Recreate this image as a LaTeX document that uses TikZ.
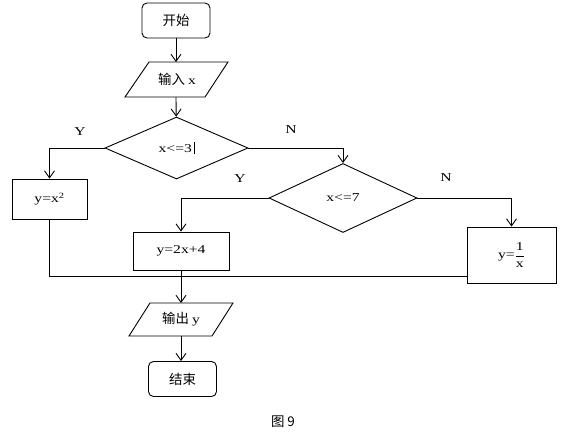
\documentclass[tikz,border=0pt]{standalone}
\usepackage{fontspec}
\setmainfont{Liberation Serif}[FakeStretch=1.3]
\newfontfamily\cjk{Noto Sans CJK SC}[Scale=1.12]
\usetikzlibrary{arrows.meta,shapes.geometric}
\tikzset{
  base/.style={line width=0.9pt},
  txt/.style={font=\fontsize{12}{14}\selectfont},
  arr/.style={base, -{Straight Barb[length=7pt,width=10pt]}},
  term/.style={base, txt, draw, rounded corners=5pt, minimum width=68pt, minimum height=35pt, inner sep=0pt},
  iotext/.style={txt, inner sep=0pt},
  iobox/.style={base, draw},
  dec/.style={base, txt, draw, diamond, inner sep=0pt},
  proc/.style={base, txt, draw, rectangle, inner sep=0pt},
  lab/.style={font=\fontsize{12}{14}\selectfont}
}
\begin{document}
\begin{tikzpicture}[x=1pt,y=-1pt,base]
\useasboundingbox (0,0) rectangle (567,432);
\node[term] (start) at (176,20.5) {\cjk 开始};
\node[iotext] (in) at (177,79.5) {\cjk 输入 \rmfamily x};
\draw[iobox] ([shift={(-28,-17.5)}]in.center) -- ([shift={(51,-17.5)}]in.center) -- ([shift={(28,17.5)}]in.center) -- ([shift={(-52,17.5)}]in.center) -- cycle;
\coordinate (inN) at ([shift={(-1,-17.5)}]in.center);
\coordinate (inS) at ([shift={(-1,17.5)}]in.center);
\node[dec, minimum width=143pt, minimum height=62pt] (d1) at (176.5,148) {x<=3\,\rule[-1.5pt]{0.5pt}{12pt}};
\node[proc, minimum width=75pt, minimum height=40pt] (b1) at (49.5,199) {y=x\textsuperscript{2}};
\node[dec, minimum width=148pt, minimum height=69pt] (d2) at (343,198) {x<=7};
\node[proc, minimum width=96pt, minimum height=38pt] (b2) at (181,251) {y=2x+4};
\node[proc, minimum width=89pt, minimum height=56pt] (b3) at (511.5,255) {y=$\displaystyle\frac{\hbox{1}}{\hbox{x}}$};
\node[iotext] (out) at (181,319.5) {\cjk 输出 \rmfamily y};
\draw[iobox] ([shift={(-31,-16.5)}]out.center) -- ([shift={(52,-16.5)}]out.center) -- ([shift={(31,16.5)}]out.center) -- ([shift={(-52,16.5)}]out.center) -- cycle;
\coordinate (outN) at ([shift={(-1,-16.5)}]out.center);
\coordinate (outS) at ([shift={(-1,16.5)}]out.center);
\node[term] (end) at (182.5,379) {\cjk 结束};
\node[txt] (cap) at (283,422) {\cjk 图 9};
\node[lab] (ly1) at (80,132) {Y};
\node[lab] (ln1) at (291,130) {N};
\node[lab] (ly2) at (240,179) {Y};
\node[lab] (ln2) at (446,178) {N};
\coordinate (m) at (180,276);
\draw[arr] (start) -- (start |- inN);
\draw[arr] (start |- inS) -- (d1);
\draw[arr] (d1.west) -| (b1.north);
\draw[arr] (d1.east) -| (d2.north);
\draw[arr] (d2.west) -| (b2.north);
\draw[arr] (d2.east) -| (b3.north);
\draw (b1.south) -- (b1.south |- m) -- (m -| b3.west);
\draw[arr] (b2.south) -- (b2.south |- outN);
\draw[arr] (b2.south |- outS) -- (b2.south |- end.north);
\end{tikzpicture}
\end{document}
